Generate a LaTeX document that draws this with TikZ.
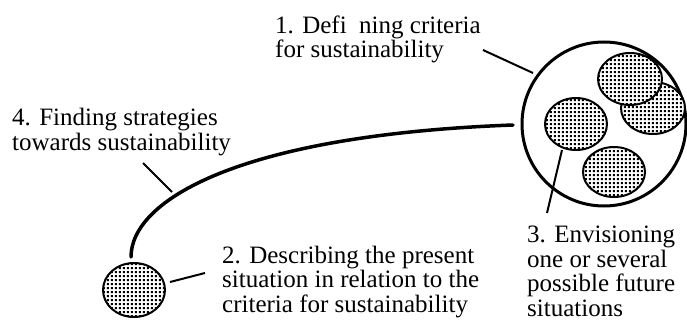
\documentclass[tikz,border=0pt]{standalone}
\usepackage{fontspec}
\setmainfont{Liberation Serif}
\usetikzlibrary{patterns.meta,shapes.geometric}

% regular grid of small square dots used inside the situation discs
\tikzdeclarepattern{
  name=griddots,
  type=uncolored,
  bounding box={(0pt,0pt) and (4.3pt,4.3pt)},
  tile size={(4.3pt,4.3pt)},
  code={\fill (1.0pt,1.0pt) rectangle (3.2pt,3.2pt);}
}

\tikzset{
  label text/.style={anchor=base west, inner sep=0pt, align=left,
    font=\fontsize{25}{24.5}\selectfont},
  situation/.style={draw=black, line width=2pt, preaction={fill=white},
    pattern=griddots, pattern color=black},
  frame/.style={draw=black, line width=3pt},
  path line/.style={draw=black, line width=3.5pt, line cap=round},
  leader/.style={draw=black, line width=2pt}
}

\begin{document}
\begin{tikzpicture}[x=1pt, y=-1pt]
  \useasboundingbox (0,0) rectangle (687,321);

  % labels (placed by the baseline of their last line)
  \node[label text] (t1) at (275,58) {1. Defi\ \ ning criteria\\for sustainability};
  \node[label text] (t4) at (12,150) {4. Finding strategies\\towards sustainability};
  \node[label text] (t2) at (222,312) {2. Describing the present\\situation in relation to the\\criteria for sustainability};
  \node[label text] (t3) at (527,316) {3. Envisioning\\one or several\\possible future\\situations};

  % present situation and the path towards the future
  \node[situation, ellipse, minimum width=62pt, minimum height=54pt, inner sep=0pt] (present) at (134,290) {};
  \coordinate (pathstart) at (131,257);
  \coordinate (pathend) at (513,125);
  \draw[path line] (pathstart) .. controls (131,200) and (240,135) .. (pathend);

  % frame holding the future situations
  \node[frame, circle, minimum size=164pt, inner sep=0pt] (future) at (604,124) {};
  \node[situation, ellipse, minimum width=64pt, minimum height=52pt, inner sep=0pt] (fB) at (653,108) {};
  \node[situation, ellipse, minimum width=64pt, minimum height=52pt, inner sep=0pt] (fA) at (630,79) {};
  \node[situation, ellipse, minimum width=62pt, minimum height=52pt, inner sep=0pt] (fC) at (576,124) {};
  \node[situation, ellipse, minimum width=62pt, minimum height=50pt, inner sep=0pt] (fD) at (614,172) {};

  % leader lines
  \coordinate (l1a) at (483,50);  \coordinate (l1b) at (533,73);
  \coordinate (l4a) at (143,163); \coordinate (l4b) at (172,192);
  \coordinate (l2a) at (170,282); \coordinate (l2b) at (205,273);
  \coordinate (l3a) at (562,150); \coordinate (l3b) at (547,213);
  \draw[leader] (l1a) -- (l1b);
  \draw[leader] (l4a) -- (l4b);
  \draw[leader] (l2a) -- (l2b);
  \draw[leader] (l3a) -- (l3b);
\end{tikzpicture}
\end{document}
